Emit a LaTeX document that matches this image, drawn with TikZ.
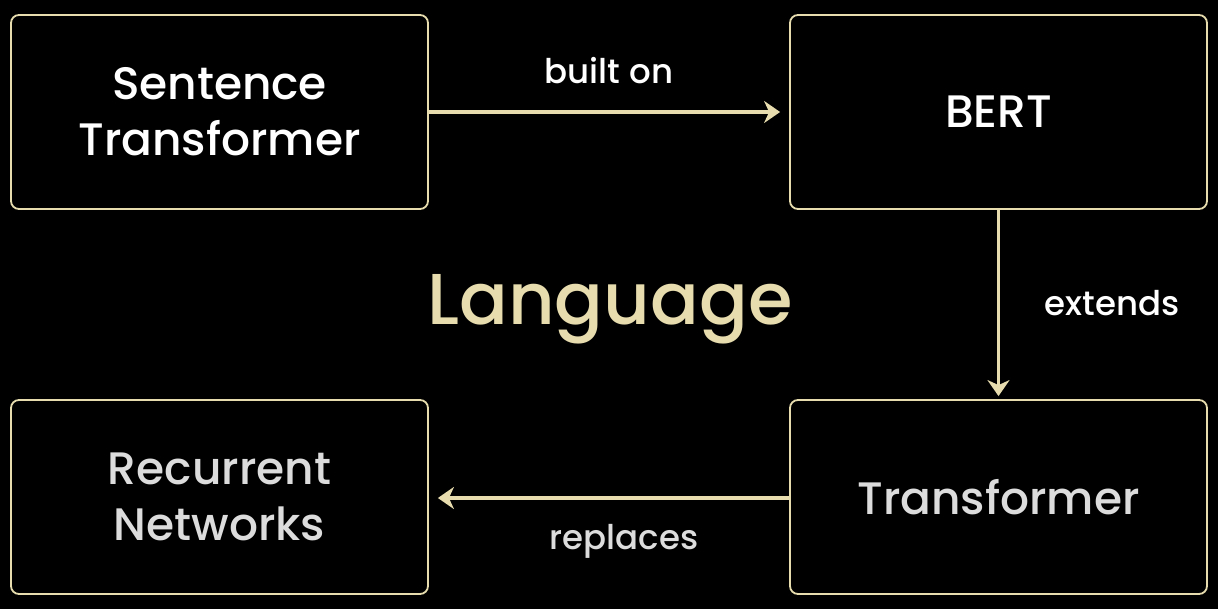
\documentclass[tikz,border=0pt]{standalone}
\usepackage{fontspec}
\setmainfont{Poppins Medium}
\usetikzlibrary{arrows.meta}
\definecolor{beige}{HTML}{E6DCAE}
\definecolor{lgray}{HTML}{DCDCDC}
\begin{document}
\begin{tikzpicture}[x=1pt,y=-1pt,
  box/.style={draw=beige, line width=1.8pt, rounded corners=8pt, fill=black,
    minimum width=417pt, minimum height=194pt, align=center, inner sep=0pt,
    font=\fontsize{45.5}{56}\selectfont},
  conn/.style={draw=beige, line width=3.5pt, -{Stealth[length=16pt,width=22pt,inset=5pt]}},
  lbl/.style={font=\fontsize{34}{38}\selectfont}
]
\fill[black] (0,0) rectangle (1218,609);
\useasboundingbox (0,0) rectangle (1218,609);
\node[box, text=white] (st) at (219.5,112) {Sentence\\Transformer};
\node[box, text=white] (bert) at (998.5,112) {BERT};
\node[box, text=lgray] (rn) at (219.5,497) {Recurrent\\Networks};
\node[box, text=lgray] (tr) at (998.5,497) {Transformer};
\draw[conn, shorten >=9pt] (st.east) -- (bert.west);
\draw[conn, shorten >=3pt] (bert.south) -- (tr.north);
\draw[conn, shorten >=9pt] ([yshift=-1pt]tr.west) -- ([yshift=-1pt]rn.east);
\node[lbl, text=white] (l1) at (609,71) {built on};
\node[lbl, text=white] (l2) at (1112,303) {extends};
\node[lbl, text=lgray] (l3) at (624,541) {replaces};
\node[text=beige, font=\fontsize{72}{80}\selectfont] (lang) at (610,309) {Language};
\end{tikzpicture}
\end{document}
